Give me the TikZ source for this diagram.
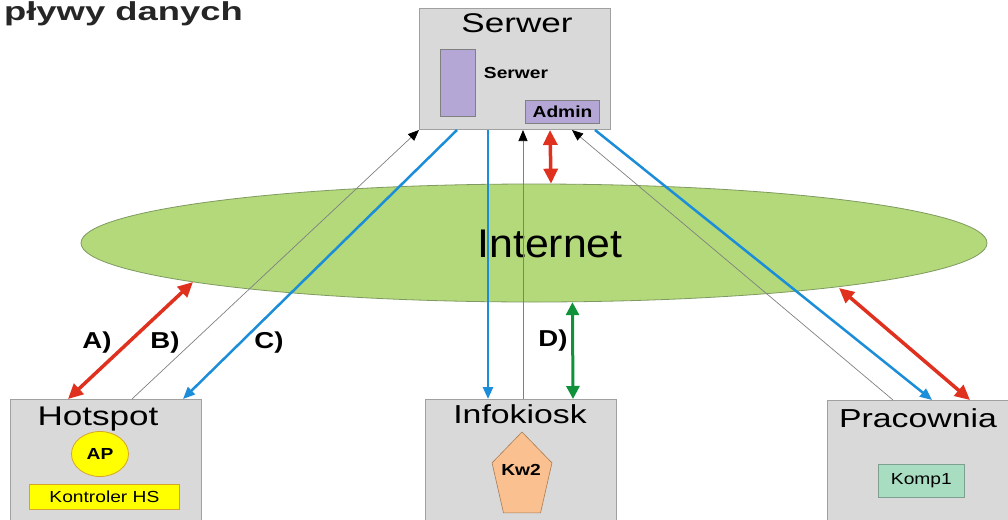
\documentclass[tikz,border=0pt]{standalone}
\usepackage{fontspec}
\setmainfont{Liberation Sans}[FakeStretch=1.2]
\newfontfamily\titlefont{Liberation Sans}[FakeStretch=1.3]
\newfontfamily\netfont{Liberation Sans}[FakeStretch=1.07]
\newfontfamily\headfont{Liberation Sans}[FakeStretch=1.4]
\usetikzlibrary{arrows.meta,shapes.geometric}
\definecolor{boxgray}{HTML}{D9D9D9}
\definecolor{boxedge}{HTML}{A0A0A0}
\definecolor{lavender}{HTML}{B4A7D6}
\definecolor{netgreen}{HTML}{B3D97A}
\definecolor{netedge}{HTML}{7F9A60}
\definecolor{hsyellow}{HTML}{FFFF00}
\definecolor{hsedge}{HTML}{D4A52A}
\definecolor{peach}{HTML}{FAC08F}
\definecolor{peachedge}{HTML}{A87C55}
\definecolor{mint}{HTML}{A9DDC2}
\definecolor{mintedge}{HTML}{7FA090}
\definecolor{arrred}{HTML}{E0301E}
\definecolor{arrblue}{HTML}{1C8DD8}
\definecolor{arrgreen}{HTML}{10923A}
\begin{document}
\begin{tikzpicture}[x=1pt,y=-1pt,inner sep=0pt,
    box/.style={draw=boxedge,fill=boxgray,line width=1pt,anchor=north west},
    title/.style={font=\titlefont\fontsize{26}{30}\selectfont,anchor=base},
    small/.style={font=\fontsize{16}{19}\selectfont},
    smallbf/.style={font=\bfseries\fontsize{16}{19}\selectfont},
    flowlabel/.style={font=\bfseries\fontsize{23}{27}\selectfont},
    redarr/.style={draw=arrred,line width=3.5pt,{Triangle[length=15pt,width=14pt]}-{Triangle[length=15pt,width=14pt]}},
    greenarr/.style={draw=arrgreen,line width=3pt,{Triangle[length=13pt,width=13pt]}-{Triangle[length=13pt,width=13pt]}},
    bluearr/.style={draw=arrblue,line width=2.5pt,-{Triangle[length=12pt,width=10pt]}},
    thinarr/.style={draw=gray,line width=0.7pt,-{Triangle[length=11pt,width=9pt,color=black]}}]
\useasboundingbox (0,0) rectangle (1008,519);
% naglowek
\draw (243,21) node[font=\headfont\bfseries\fontsize{26}{30}\selectfont,anchor=base east,text=black!85](head) {pływy danych};
% internet
\draw (534,243) node[ellipse,draw=netedge,fill=netgreen,line width=0.8pt,minimum width=906,minimum height=118](inet) {};
\draw (550,257) node[font=\netfont\fontsize{40}{46}\selectfont,anchor=base](inettxt) {Internet};
% serwer
\draw (419,8) node[box,minimum width=191,minimum height=121](serwer) {};
\draw (517,33) node[title,font=\titlefont\fontsize{27}{31}\selectfont](serwertxt) {Serwer};
\draw (440,49) node[box,fill=lavender,draw=gray,minimum width=35,minimum height=67](srvrack) {};
\draw (516,73) node[smallbf](srvtxt) {Serwer};
\draw (525,100) node[box,fill=lavender,draw=gray,minimum width=74,minimum height=23](admin) {};
\draw (admin.center) node[smallbf](admintxt) {Admin};
% hotspot
\draw (10,399) node[box,minimum width=191,minimum height=141](hotspot) {};
\draw (98,425) node[title,font=\titlefont\fontsize{27}{31}\selectfont](hotspottxt) {Hotspot};
\draw (100,454) node[ellipse,draw=hsedge,fill=hsyellow,line width=0.8pt,minimum width=57,minimum height=45,smallbf](ap) {AP};
\draw (29,484) node[box,draw=hsedge,fill=hsyellow,line width=0.8pt,minimum width=150,minimum height=25](hsctl) {};
\draw (hsctl.center) node[small](hsctltxt) {Kontroler HS};
% infokiosk
\draw (425,399) node[box,minimum width=191,minimum height=141](kiosk) {};
\draw (520,423) node[title](kiosktxt) {Infokiosk};
\draw (522,476.7) node[regular polygon,regular polygon sides=5,minimum size=63,yscale=1.42,transform shape,draw=peachedge,fill=peach,line width=0.6pt](kw) {};
\draw (521,470) node[smallbf](kwtxt) {Kw2};
% pracownia
\draw (827,400) node[box,minimum width=200,minimum height=140](lab) {};
\draw (918,427) node[title](labtxt) {Pracownia};
\draw (878,464) node[box,draw=mintedge,fill=mint,line width=0.8pt,minimum width=86,minimum height=33](komp) {};
\draw (komp.center) node[small](komptxt) {Komp1};
% przeplywy
\draw[redarr] ([xshift=58pt]hotspot.north west) -- ([xshift=-341pt,yshift=-39pt]inet.center);
\draw[thinarr] ([xshift=122pt]hotspot.north west) -- (serwer.south west);
\draw[bluearr] ([xshift=38pt]serwer.south west) -- ([xshift=173pt]hotspot.north west);
\draw[bluearr] ([xshift=69pt]serwer.south west) -- ([xshift=63pt]kiosk.north west);
\draw[thinarr] ([xshift=98pt]kiosk.north west) -- ([xshift=104pt]serwer.south west);
\draw[redarr] ([xshift=131pt]serwer.south west) -- (inet.74.8);
\draw[greenarr] (inet.303.6) -- ([xshift=148pt]kiosk.north west);
\draw[thinarr] ([xshift=66pt]lab.north west) -- ([xshift=153pt]serwer.south west);
\draw[bluearr] ([xshift=176pt]serwer.south west) -- ([xshift=105pt]lab.north west);
\draw[redarr] ([xshift=305pt,yshift=-45pt]inet.center) -- ([xshift=143pt]lab.north west);
% etykiety
\draw (97,343) node[flowlabel](la) {A)};
\draw (165,343) node[flowlabel](lb) {B)};
\draw (269,343) node[flowlabel](lc) {C)};
\draw (553,341) node[flowlabel](ld) {D)};
\end{tikzpicture}
\end{document}
